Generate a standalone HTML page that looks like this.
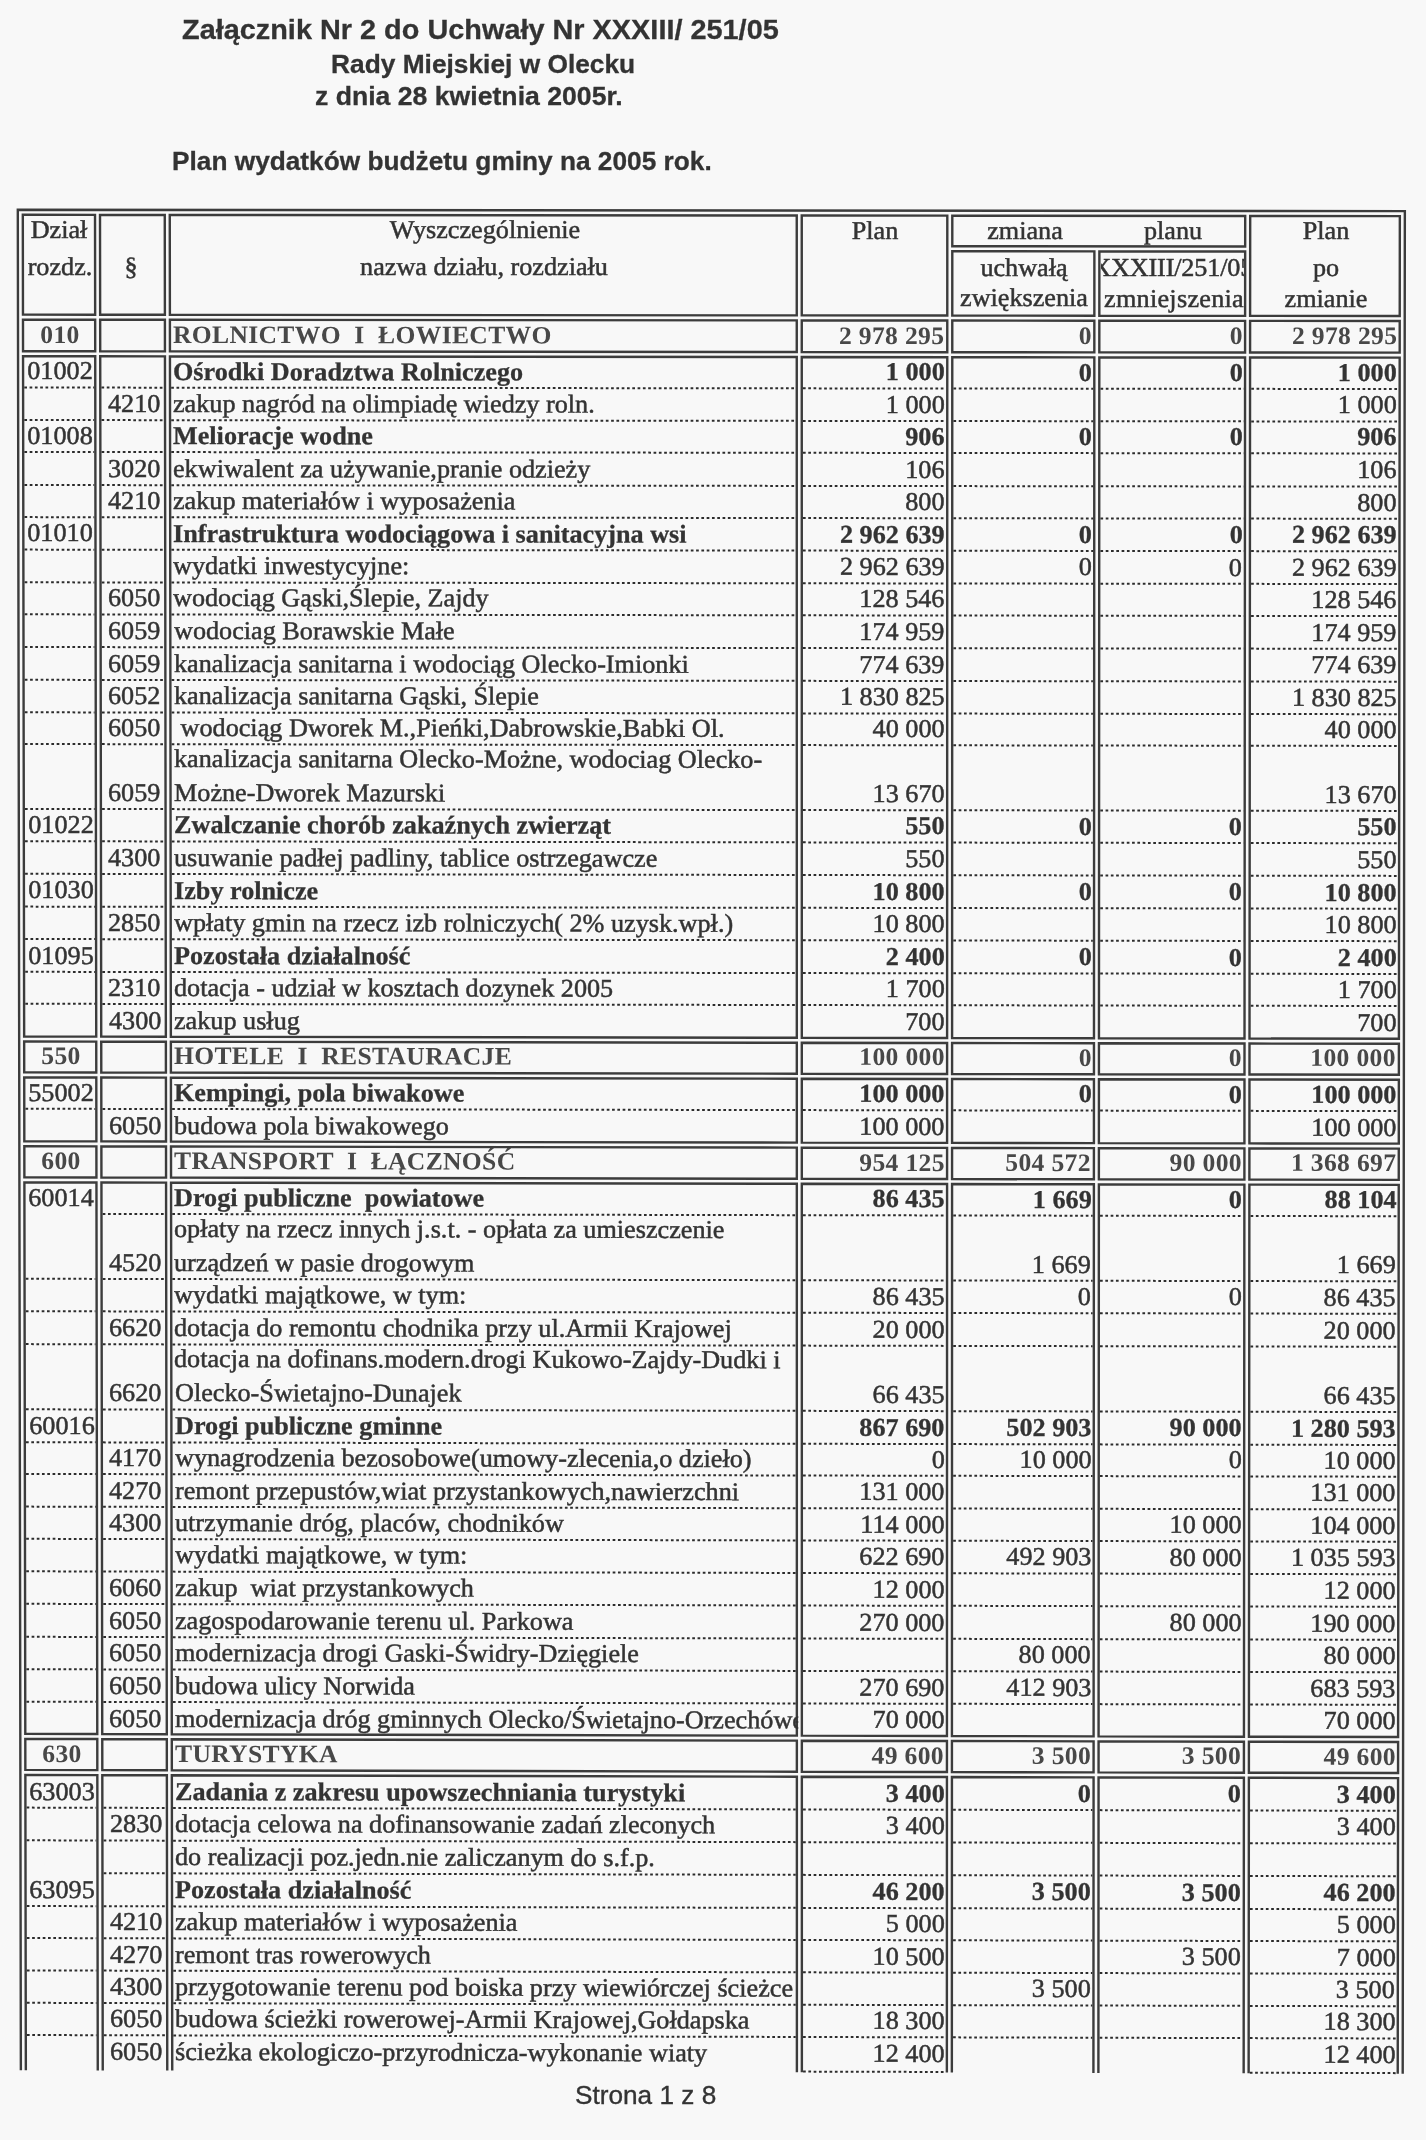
<!DOCTYPE html>
<html lang="pl"><head><meta charset="utf-8"><title>Załącznik Nr 2</title>
<style>
html,body{margin:0;padding:0;background:#f8f8f8;}
body{width:1426px;height:2140px;position:relative;overflow:hidden;font-family:"Liberation Serif",serif;color:#333333;}
#pg{position:absolute;left:0;top:0;width:1426px;height:2140px;filter:blur(0.35px);}
#tb{position:absolute;left:0;top:0;width:1426px;height:2140px;}
#tb svg{position:absolute;left:0;top:0;}
#tb svg line,#tb svg polygon,#tb svg polyline{stroke:#3c3c3c;stroke-width:2.4;fill:none;shape-rendering:geometricPrecision;}
#tb svg line.d{stroke:#2c2c2c;stroke-dasharray:2.7 2.6;stroke-width:2.0;}
#tb div{position:absolute;white-space:pre;line-height:30px;height:30px;-webkit-text-stroke:0.5px #333333;}
#tb div.b{font-weight:bold;-webkit-text-stroke:0.3px #333333;}
#tb div.sec{font-weight:bold;color:#484848;-webkit-text-stroke:0;letter-spacing:0.33px;}
#tb div.clip{overflow:hidden;}
.h{position:absolute;white-space:pre;font-family:"Liberation Sans",sans-serif;font-weight:bold;color:#333;line-height:30px;-webkit-text-stroke:0.3px #333;}
.f{position:absolute;white-space:pre;font-family:"Liberation Sans",sans-serif;color:#333;line-height:30px;-webkit-text-stroke:0.35px #333;}
</style></head><body>
<div id="pg">
<div class="h" style="left:181.60px;top:13.79px;font-size:28.31px;transform:scaleX(1.02);transform-origin:0 50%">Załącznik Nr 2 do Uchwały Nr XXXIII/ 251/05</div>
<div class="h" style="left:331.40px;top:48.76px;font-size:25.81px;transform:scaleX(1.02);transform-origin:0 50%">Rady Miejskiej w Olecku</div>
<div class="h" style="left:314.80px;top:80.86px;font-size:26.10px;transform:scaleX(1.02);transform-origin:0 50%">z dnia 28 kwietnia 2005r.</div>
<div class="h" style="left:171.80px;top:145.88px;font-size:25.74px;transform:scaleX(1.02);transform-origin:0 50%">Plan wydatków budżetu gminy na 2005 rok.</div>
<div id="tb">
<svg width="1426" height="2140" viewBox="0 0 1426 2140">
<polyline points="20.86,2070.20 17.80,209.80 1404.85,211.10 1402.71,2073.74"/>
<polygon points="22.97,314.60 22.81,214.80 95.01,214.87 95.16,314.68"/>
<polygon points="100.15,314.68 100.01,214.88 164.76,214.94 164.89,314.75"/>
<polygon points="169.89,314.76 169.76,214.94 796.75,215.53 796.76,315.40"/>
<polygon points="801.76,315.41 801.75,215.54 947.30,215.67 947.28,315.56"/>
<polygon points="1250.11,315.87 1250.20,215.96 1399.84,216.10 1399.73,316.02"/>
<polygon points="23.03,351.20 22.98,319.60 95.16,319.68 95.21,351.28"/>
<polygon points="100.21,351.29 100.16,319.68 164.90,319.75 164.94,351.36"/>
<polygon points="169.94,351.36 169.90,319.76 796.76,320.40 796.76,352.03"/>
<polygon points="801.76,352.03 801.76,320.41 947.27,320.56 947.27,352.19"/>
<polygon points="952.27,352.19 952.27,320.56 1094.34,320.71 1094.33,352.34"/>
<polygon points="1099.32,352.35 1099.34,320.72 1245.11,320.87 1245.08,352.50"/>
<polygon points="1250.08,352.51 1250.11,320.87 1399.72,321.03 1399.69,352.66"/>
<polygon points="24.15,1036.51 23.04,356.20 95.22,356.28 96.23,1036.63"/>
<polygon points="101.22,1036.64 100.22,356.29 164.95,356.36 165.86,1036.74"/>
<polygon points="170.86,1036.75 169.95,356.36 796.76,357.03 796.81,1037.79"/>
<polygon points="801.80,1037.80 801.76,357.03 947.27,357.19 947.11,1038.04"/>
<polygon points="952.10,1038.05 952.27,357.19 1094.32,357.35 1093.97,1038.28"/>
<polygon points="1098.96,1038.29 1099.32,357.35 1245.08,357.51 1244.51,1038.53"/>
<polygon points="1249.51,1038.54 1250.08,357.51 1399.68,357.67 1398.91,1038.79"/>
<polygon points="24.21,1072.41 24.16,1041.51 96.24,1041.63 96.28,1072.53"/>
<polygon points="101.28,1072.54 101.23,1041.64 165.87,1041.74 165.91,1072.65"/>
<polygon points="170.90,1072.66 170.86,1041.75 796.81,1042.79 796.81,1073.71"/>
<polygon points="801.81,1073.72 801.80,1042.80 947.11,1043.04 947.10,1073.97"/>
<polygon points="952.09,1073.98 952.10,1043.05 1093.96,1043.29 1093.95,1074.22"/>
<polygon points="1098.94,1074.22 1098.95,1043.30 1244.51,1043.54 1244.49,1074.47"/>
<polygon points="1249.48,1074.48 1249.50,1043.55 1398.90,1043.79 1398.87,1074.73"/>
<polygon points="24.32,1141.26 24.22,1077.41 96.29,1077.53 96.39,1141.38"/>
<polygon points="101.38,1141.39 101.28,1077.54 165.92,1077.65 166.01,1141.51"/>
<polygon points="171.00,1141.51 170.91,1077.66 796.81,1078.72 796.82,1142.61"/>
<polygon points="801.81,1142.62 801.81,1078.73 947.10,1078.97 947.09,1142.87"/>
<polygon points="952.08,1142.88 952.09,1078.98 1093.94,1079.22 1093.91,1143.13"/>
<polygon points="1098.90,1143.14 1098.94,1079.23 1244.48,1079.48 1244.43,1143.39"/>
<polygon points="1249.42,1143.40 1249.47,1079.48 1398.86,1079.74 1398.79,1143.66"/>
<polygon points="24.38,1177.41 24.33,1146.26 96.39,1146.38 96.44,1177.54"/>
<polygon points="101.43,1177.55 101.38,1146.39 166.01,1146.51 166.05,1177.66"/>
<polygon points="171.04,1177.67 171.00,1146.52 796.82,1147.61 796.82,1178.78"/>
<polygon points="801.81,1178.79 801.81,1147.62 947.09,1147.88 947.08,1179.05"/>
<polygon points="952.07,1179.06 952.08,1147.89 1093.91,1148.13 1093.89,1179.31"/>
<polygon points="1098.88,1179.32 1098.90,1148.14 1244.42,1148.40 1244.40,1179.58"/>
<polygon points="1249.39,1179.59 1249.41,1148.41 1398.78,1148.67 1398.75,1179.86"/>
<polygon points="25.29,1733.91 24.39,1182.41 96.45,1182.54 97.27,1734.07"/>
<polygon points="102.25,1734.09 101.44,1182.55 166.06,1182.66 166.80,1734.23"/>
<polygon points="171.79,1734.24 171.05,1182.67 796.82,1183.79 796.86,1735.66"/>
<polygon points="801.85,1735.67 801.81,1183.80 947.08,1184.06 946.95,1736.00"/>
<polygon points="951.94,1736.01 952.07,1184.07 1093.89,1184.32 1093.60,1736.33"/>
<polygon points="1098.58,1736.35 1098.88,1184.33 1244.39,1184.59 1243.94,1736.68"/>
<polygon points="1248.92,1736.69 1249.38,1184.60 1398.74,1184.86 1398.11,1737.03"/>
<polygon points="25.35,1769.91 25.30,1738.91 97.28,1739.07 97.32,1770.08"/>
<polygon points="102.31,1770.09 102.26,1739.09 166.81,1739.23 166.85,1770.24"/>
<polygon points="171.84,1770.25 171.80,1739.24 796.86,1740.66 796.87,1771.69"/>
<polygon points="801.85,1771.70 801.85,1740.68 946.95,1741.01 946.94,1772.03"/>
<polygon points="951.93,1772.04 951.94,1741.02 1093.60,1741.34 1093.58,1772.37"/>
<polygon points="1098.57,1772.38 1098.58,1741.35 1243.93,1741.68 1243.91,1772.71"/>
<polygon points="1248.89,1772.73 1248.92,1741.69 1398.11,1742.03 1398.07,1773.07"/>
<polyline points="25.84,2070.21 25.36,1774.91 97.33,1775.08 97.77,2070.40"/>
<polyline points="102.75,2070.41 102.31,1775.09 166.86,1775.24 167.26,2070.57"/>
<polyline points="172.24,2070.59 171.84,1775.25 796.87,1776.69 796.89,2072.19"/>
<polyline points="801.87,2072.20 801.85,1776.70 946.94,1777.04 946.87,2072.57"/>
<polyline points="951.86,2072.59 951.93,1777.05 1093.58,1777.37 1093.42,2072.95"/>
<polyline points="1098.40,2072.96 1098.56,1777.38 1243.90,1777.72 1243.66,2073.33"/>
<polyline points="1248.64,2073.35 1248.89,1777.73 1398.06,1778.08 1397.73,2073.73"/>
<polygon points="952.29,246.25 952.30,215.68 1245.20,215.96 1245.17,246.54"/>
<polygon points="952.28,315.56 952.29,251.26 1094.38,251.40 1094.35,315.71"/>
<polygon points="1099.34,315.71 1099.38,251.40 1245.17,251.54 1245.11,315.86"/>
<line x1="24.29" y1="387.51" x2="94.06" y2="387.58" class="d"/>
<line x1="101.46" y1="387.59" x2="163.79" y2="387.66" class="d"/>
<line x1="171.19" y1="387.67" x2="795.56" y2="388.35" class="d"/>
<line x1="802.96" y1="388.36" x2="946.06" y2="388.51" class="d"/>
<line x1="953.46" y1="388.52" x2="1093.11" y2="388.67" class="d"/>
<line x1="1100.50" y1="388.68" x2="1243.85" y2="388.84" class="d"/>
<line x1="1251.25" y1="388.85" x2="1398.45" y2="389.01" class="d"/>
<line x1="24.34" y1="420.01" x2="94.11" y2="420.08" class="d"/>
<line x1="101.51" y1="420.09" x2="163.83" y2="420.16" class="d"/>
<line x1="171.23" y1="420.17" x2="795.57" y2="420.87" class="d"/>
<line x1="802.96" y1="420.88" x2="946.05" y2="421.04" class="d"/>
<line x1="953.45" y1="421.05" x2="1093.09" y2="421.20" class="d"/>
<line x1="1100.49" y1="421.21" x2="1243.83" y2="421.37" class="d"/>
<line x1="1251.22" y1="421.38" x2="1398.41" y2="421.55" class="d"/>
<line x1="24.39" y1="451.91" x2="94.16" y2="451.99" class="d"/>
<line x1="101.56" y1="452.00" x2="163.88" y2="452.07" class="d"/>
<line x1="171.27" y1="452.08" x2="795.57" y2="452.79" class="d"/>
<line x1="802.97" y1="452.80" x2="946.05" y2="452.97" class="d"/>
<line x1="953.44" y1="452.97" x2="1093.07" y2="453.13" class="d"/>
<line x1="1100.47" y1="453.14" x2="1243.80" y2="453.31" class="d"/>
<line x1="1251.20" y1="453.32" x2="1398.37" y2="453.48" class="d"/>
<line x1="24.45" y1="485.01" x2="94.21" y2="485.09" class="d"/>
<line x1="101.61" y1="485.10" x2="163.92" y2="485.17" class="d"/>
<line x1="171.32" y1="485.18" x2="795.57" y2="485.91" class="d"/>
<line x1="802.97" y1="485.92" x2="946.04" y2="486.09" class="d"/>
<line x1="953.43" y1="486.10" x2="1093.06" y2="486.26" class="d"/>
<line x1="1100.45" y1="486.27" x2="1243.77" y2="486.44" class="d"/>
<line x1="1251.17" y1="486.45" x2="1398.34" y2="486.62" class="d"/>
<line x1="24.50" y1="517.11" x2="94.26" y2="517.19" class="d"/>
<line x1="101.65" y1="517.20" x2="163.96" y2="517.28" class="d"/>
<line x1="171.36" y1="517.28" x2="795.57" y2="518.04" class="d"/>
<line x1="802.97" y1="518.05" x2="946.03" y2="518.22" class="d"/>
<line x1="953.43" y1="518.23" x2="1093.04" y2="518.39" class="d"/>
<line x1="1100.43" y1="518.40" x2="1243.75" y2="518.58" class="d"/>
<line x1="1251.14" y1="518.59" x2="1398.30" y2="518.76" class="d"/>
<line x1="24.55" y1="549.61" x2="94.31" y2="549.69" class="d"/>
<line x1="101.70" y1="549.70" x2="164.01" y2="549.78" class="d"/>
<line x1="171.40" y1="549.79" x2="795.58" y2="550.56" class="d"/>
<line x1="802.97" y1="550.57" x2="946.02" y2="550.74" class="d"/>
<line x1="953.42" y1="550.75" x2="1093.02" y2="550.93" class="d"/>
<line x1="1100.42" y1="550.93" x2="1243.72" y2="551.11" class="d"/>
<line x1="1251.11" y1="551.12" x2="1398.26" y2="551.30" class="d"/>
<line x1="24.61" y1="582.31" x2="94.36" y2="582.40" class="d"/>
<line x1="101.75" y1="582.40" x2="164.05" y2="582.48" class="d"/>
<line x1="171.45" y1="582.49" x2="795.58" y2="583.28" class="d"/>
<line x1="802.97" y1="583.29" x2="946.02" y2="583.47" class="d"/>
<line x1="953.41" y1="583.48" x2="1093.01" y2="583.66" class="d"/>
<line x1="1100.40" y1="583.67" x2="1243.69" y2="583.85" class="d"/>
<line x1="1251.09" y1="583.86" x2="1398.23" y2="584.04" class="d"/>
<line x1="24.66" y1="614.31" x2="94.40" y2="614.40" class="d"/>
<line x1="101.80" y1="614.41" x2="164.10" y2="614.49" class="d"/>
<line x1="171.49" y1="614.50" x2="795.58" y2="615.30" class="d"/>
<line x1="802.98" y1="615.31" x2="946.01" y2="615.50" class="d"/>
<line x1="953.40" y1="615.51" x2="1092.99" y2="615.69" class="d"/>
<line x1="1100.38" y1="615.70" x2="1243.67" y2="615.88" class="d"/>
<line x1="1251.06" y1="615.89" x2="1398.19" y2="616.08" class="d"/>
<line x1="24.71" y1="647.01" x2="94.45" y2="647.10" class="d"/>
<line x1="101.85" y1="647.11" x2="164.14" y2="647.19" class="d"/>
<line x1="171.53" y1="647.20" x2="795.58" y2="648.02" class="d"/>
<line x1="802.98" y1="648.03" x2="946.00" y2="648.22" class="d"/>
<line x1="953.39" y1="648.23" x2="1092.97" y2="648.42" class="d"/>
<line x1="1100.37" y1="648.43" x2="1243.64" y2="648.61" class="d"/>
<line x1="1251.03" y1="648.62" x2="1398.15" y2="648.82" class="d"/>
<line x1="24.77" y1="679.81" x2="94.50" y2="679.90" class="d"/>
<line x1="101.89" y1="679.91" x2="164.18" y2="680.00" class="d"/>
<line x1="171.58" y1="680.01" x2="795.59" y2="680.85" class="d"/>
<line x1="802.98" y1="680.86" x2="945.99" y2="681.05" class="d"/>
<line x1="953.39" y1="681.06" x2="1092.95" y2="681.25" class="d"/>
<line x1="1100.35" y1="681.26" x2="1243.61" y2="681.45" class="d"/>
<line x1="1251.00" y1="681.46" x2="1398.12" y2="681.66" class="d"/>
<line x1="24.82" y1="712.31" x2="94.55" y2="712.40" class="d"/>
<line x1="101.94" y1="712.41" x2="164.23" y2="712.50" class="d"/>
<line x1="171.62" y1="712.51" x2="795.59" y2="713.37" class="d"/>
<line x1="802.98" y1="713.38" x2="945.99" y2="713.58" class="d"/>
<line x1="953.38" y1="713.59" x2="1092.94" y2="713.78" class="d"/>
<line x1="1100.33" y1="713.79" x2="1243.58" y2="713.98" class="d"/>
<line x1="1250.98" y1="713.99" x2="1398.08" y2="714.20" class="d"/>
<line x1="24.87" y1="744.01" x2="94.60" y2="744.11" class="d"/>
<line x1="101.99" y1="744.12" x2="164.27" y2="744.20" class="d"/>
<line x1="171.66" y1="744.21" x2="795.59" y2="745.09" class="d"/>
<line x1="802.98" y1="745.10" x2="945.98" y2="745.30" class="d"/>
<line x1="953.37" y1="745.31" x2="1092.92" y2="745.51" class="d"/>
<line x1="1100.31" y1="745.52" x2="1243.56" y2="745.72" class="d"/>
<line x1="1250.95" y1="745.73" x2="1398.04" y2="745.94" class="d"/>
<line x1="24.98" y1="808.91" x2="94.69" y2="809.01" class="d"/>
<line x1="102.08" y1="809.02" x2="164.36" y2="809.11" class="d"/>
<line x1="171.75" y1="809.12" x2="795.60" y2="810.03" class="d"/>
<line x1="802.99" y1="810.04" x2="945.96" y2="810.25" class="d"/>
<line x1="953.36" y1="810.26" x2="1092.89" y2="810.47" class="d"/>
<line x1="1100.28" y1="810.48" x2="1243.50" y2="810.69" class="d"/>
<line x1="1250.90" y1="810.70" x2="1397.97" y2="810.91" class="d"/>
<line x1="25.03" y1="841.21" x2="94.74" y2="841.31" class="d"/>
<line x1="102.13" y1="841.32" x2="164.40" y2="841.42" class="d"/>
<line x1="171.79" y1="841.43" x2="795.60" y2="842.36" class="d"/>
<line x1="802.99" y1="842.37" x2="945.96" y2="842.58" class="d"/>
<line x1="953.35" y1="842.59" x2="1092.87" y2="842.80" class="d"/>
<line x1="1100.26" y1="842.81" x2="1243.48" y2="843.02" class="d"/>
<line x1="1250.87" y1="843.03" x2="1397.93" y2="843.25" class="d"/>
<line x1="25.08" y1="873.81" x2="94.79" y2="873.91" class="d"/>
<line x1="102.18" y1="873.93" x2="164.45" y2="874.02" class="d"/>
<line x1="171.84" y1="874.03" x2="795.60" y2="874.98" class="d"/>
<line x1="802.99" y1="874.99" x2="945.95" y2="875.21" class="d"/>
<line x1="953.34" y1="875.22" x2="1092.85" y2="875.43" class="d"/>
<line x1="1100.24" y1="875.44" x2="1243.45" y2="875.66" class="d"/>
<line x1="1250.84" y1="875.67" x2="1397.89" y2="875.89" class="d"/>
<line x1="25.14" y1="906.61" x2="94.84" y2="906.72" class="d"/>
<line x1="102.23" y1="906.73" x2="164.49" y2="906.82" class="d"/>
<line x1="171.88" y1="906.84" x2="795.60" y2="907.80" class="d"/>
<line x1="802.99" y1="907.81" x2="945.94" y2="908.03" class="d"/>
<line x1="953.33" y1="908.04" x2="1092.84" y2="908.26" class="d"/>
<line x1="1100.23" y1="908.27" x2="1243.42" y2="908.49" class="d"/>
<line x1="1250.81" y1="908.50" x2="1397.86" y2="908.73" class="d"/>
<line x1="25.19" y1="939.01" x2="94.89" y2="939.12" class="d"/>
<line x1="102.28" y1="939.13" x2="164.53" y2="939.23" class="d"/>
<line x1="171.92" y1="939.24" x2="795.61" y2="940.22" class="d"/>
<line x1="803.00" y1="940.23" x2="945.94" y2="940.46" class="d"/>
<line x1="953.32" y1="940.47" x2="1092.82" y2="940.69" class="d"/>
<line x1="1100.21" y1="940.70" x2="1243.40" y2="940.93" class="d"/>
<line x1="1250.79" y1="940.94" x2="1397.82" y2="941.17" class="d"/>
<line x1="25.24" y1="971.81" x2="94.94" y2="971.92" class="d"/>
<line x1="102.32" y1="971.93" x2="164.58" y2="972.03" class="d"/>
<line x1="171.97" y1="972.04" x2="795.61" y2="973.04" class="d"/>
<line x1="803.00" y1="973.06" x2="945.93" y2="973.28" class="d"/>
<line x1="953.32" y1="973.30" x2="1092.80" y2="973.52" class="d"/>
<line x1="1100.19" y1="973.53" x2="1243.37" y2="973.76" class="d"/>
<line x1="1250.76" y1="973.77" x2="1397.78" y2="974.01" class="d"/>
<line x1="25.30" y1="1003.76" x2="94.98" y2="1003.87" class="d"/>
<line x1="102.37" y1="1003.89" x2="164.62" y2="1003.99" class="d"/>
<line x1="172.01" y1="1004.00" x2="795.61" y2="1005.02" class="d"/>
<line x1="803.00" y1="1005.03" x2="945.92" y2="1005.26" class="d"/>
<line x1="953.31" y1="1005.27" x2="1092.79" y2="1005.50" class="d"/>
<line x1="1100.17" y1="1005.51" x2="1243.34" y2="1005.75" class="d"/>
<line x1="1250.73" y1="1005.76" x2="1397.75" y2="1006.00" class="d"/>
<line x1="25.47" y1="1108.76" x2="95.14" y2="1108.88" class="d"/>
<line x1="102.53" y1="1108.89" x2="164.76" y2="1109.00" class="d"/>
<line x1="172.15" y1="1109.01" x2="795.62" y2="1110.09" class="d"/>
<line x1="803.01" y1="1110.10" x2="945.90" y2="1110.34" class="d"/>
<line x1="953.28" y1="1110.36" x2="1092.73" y2="1110.60" class="d"/>
<line x1="1100.12" y1="1110.61" x2="1243.26" y2="1110.86" class="d"/>
<line x1="1250.64" y1="1110.87" x2="1397.63" y2="1111.12" class="d"/>
<line x1="102.68" y1="1213.90" x2="164.91" y2="1214.01" class="d"/>
<line x1="172.29" y1="1214.03" x2="795.63" y2="1215.16" class="d"/>
<line x1="803.01" y1="1215.17" x2="945.87" y2="1215.43" class="d"/>
<line x1="953.26" y1="1215.44" x2="1092.68" y2="1215.70" class="d"/>
<line x1="1100.06" y1="1215.71" x2="1243.17" y2="1215.97" class="d"/>
<line x1="1250.56" y1="1215.98" x2="1397.51" y2="1216.25" class="d"/>
<line x1="25.74" y1="1278.76" x2="95.39" y2="1278.89" class="d"/>
<line x1="102.78" y1="1278.90" x2="164.99" y2="1279.02" class="d"/>
<line x1="172.38" y1="1279.04" x2="795.63" y2="1280.20" class="d"/>
<line x1="803.02" y1="1280.21" x2="945.86" y2="1280.48" class="d"/>
<line x1="953.24" y1="1280.50" x2="1092.64" y2="1280.76" class="d"/>
<line x1="1100.03" y1="1280.77" x2="1243.12" y2="1281.04" class="d"/>
<line x1="1250.50" y1="1281.05" x2="1397.43" y2="1281.33" class="d"/>
<line x1="25.80" y1="1311.21" x2="95.44" y2="1311.34" class="d"/>
<line x1="102.83" y1="1311.36" x2="165.04" y2="1311.48" class="d"/>
<line x1="172.42" y1="1311.49" x2="795.63" y2="1312.67" class="d"/>
<line x1="803.02" y1="1312.69" x2="945.85" y2="1312.96" class="d"/>
<line x1="953.23" y1="1312.97" x2="1092.62" y2="1313.24" class="d"/>
<line x1="1100.01" y1="1313.25" x2="1243.09" y2="1313.52" class="d"/>
<line x1="1250.47" y1="1313.54" x2="1397.40" y2="1313.82" class="d"/>
<line x1="25.85" y1="1344.11" x2="95.49" y2="1344.25" class="d"/>
<line x1="102.87" y1="1344.26" x2="165.08" y2="1344.38" class="d"/>
<line x1="172.47" y1="1344.39" x2="795.64" y2="1345.60" class="d"/>
<line x1="803.02" y1="1345.61" x2="945.84" y2="1345.88" class="d"/>
<line x1="953.23" y1="1345.90" x2="1092.61" y2="1346.17" class="d"/>
<line x1="1099.99" y1="1346.18" x2="1243.06" y2="1346.46" class="d"/>
<line x1="1250.45" y1="1346.47" x2="1397.36" y2="1346.76" class="d"/>
<line x1="25.96" y1="1409.31" x2="95.59" y2="1409.45" class="d"/>
<line x1="102.97" y1="1409.46" x2="165.17" y2="1409.59" class="d"/>
<line x1="172.55" y1="1409.60" x2="795.64" y2="1410.84" class="d"/>
<line x1="803.02" y1="1410.85" x2="945.83" y2="1411.14" class="d"/>
<line x1="953.21" y1="1411.15" x2="1092.57" y2="1411.43" class="d"/>
<line x1="1099.96" y1="1411.44" x2="1243.01" y2="1411.73" class="d"/>
<line x1="1250.39" y1="1411.74" x2="1397.28" y2="1412.03" class="d"/>
<line x1="26.01" y1="1442.21" x2="95.64" y2="1442.35" class="d"/>
<line x1="103.02" y1="1442.37" x2="165.21" y2="1442.49" class="d"/>
<line x1="172.60" y1="1442.51" x2="795.65" y2="1443.76" class="d"/>
<line x1="803.03" y1="1443.78" x2="945.82" y2="1444.06" class="d"/>
<line x1="953.20" y1="1444.08" x2="1092.56" y2="1444.36" class="d"/>
<line x1="1099.94" y1="1444.37" x2="1242.98" y2="1444.66" class="d"/>
<line x1="1250.36" y1="1444.68" x2="1397.25" y2="1444.97" class="d"/>
<line x1="26.06" y1="1473.91" x2="95.69" y2="1474.05" class="d"/>
<line x1="103.07" y1="1474.07" x2="165.26" y2="1474.20" class="d"/>
<line x1="172.64" y1="1474.21" x2="795.65" y2="1475.48" class="d"/>
<line x1="803.03" y1="1475.50" x2="945.81" y2="1475.79" class="d"/>
<line x1="953.20" y1="1475.80" x2="1092.54" y2="1476.09" class="d"/>
<line x1="1099.92" y1="1476.10" x2="1242.96" y2="1476.40" class="d"/>
<line x1="1250.34" y1="1476.41" x2="1397.21" y2="1476.71" class="d"/>
<line x1="26.12" y1="1506.61" x2="95.73" y2="1506.76" class="d"/>
<line x1="103.11" y1="1506.77" x2="165.30" y2="1506.90" class="d"/>
<line x1="172.68" y1="1506.92" x2="795.65" y2="1508.21" class="d"/>
<line x1="803.03" y1="1508.22" x2="945.81" y2="1508.52" class="d"/>
<line x1="953.19" y1="1508.53" x2="1092.52" y2="1508.82" class="d"/>
<line x1="1099.90" y1="1508.83" x2="1242.93" y2="1509.13" class="d"/>
<line x1="1250.31" y1="1509.15" x2="1397.17" y2="1509.45" class="d"/>
<line x1="26.17" y1="1538.81" x2="95.78" y2="1538.96" class="d"/>
<line x1="103.16" y1="1538.97" x2="165.35" y2="1539.10" class="d"/>
<line x1="172.73" y1="1539.12" x2="795.65" y2="1540.43" class="d"/>
<line x1="803.03" y1="1540.44" x2="945.80" y2="1540.74" class="d"/>
<line x1="953.18" y1="1540.76" x2="1092.51" y2="1541.05" class="d"/>
<line x1="1099.89" y1="1541.07" x2="1242.90" y2="1541.37" class="d"/>
<line x1="1250.28" y1="1541.38" x2="1397.14" y2="1541.69" class="d"/>
<line x1="26.22" y1="1571.31" x2="95.83" y2="1571.46" class="d"/>
<line x1="103.21" y1="1571.48" x2="165.39" y2="1571.61" class="d"/>
<line x1="172.77" y1="1571.62" x2="795.66" y2="1572.95" class="d"/>
<line x1="803.03" y1="1572.96" x2="945.79" y2="1573.27" class="d"/>
<line x1="953.17" y1="1573.28" x2="1092.49" y2="1573.58" class="d"/>
<line x1="1099.87" y1="1573.60" x2="1242.87" y2="1573.90" class="d"/>
<line x1="1250.25" y1="1573.92" x2="1397.10" y2="1574.23" class="d"/>
<line x1="26.27" y1="1603.81" x2="95.88" y2="1603.96" class="d"/>
<line x1="103.26" y1="1603.98" x2="165.43" y2="1604.11" class="d"/>
<line x1="172.81" y1="1604.13" x2="795.66" y2="1605.47" class="d"/>
<line x1="803.04" y1="1605.49" x2="945.78" y2="1605.79" class="d"/>
<line x1="953.16" y1="1605.81" x2="1092.47" y2="1606.11" class="d"/>
<line x1="1099.85" y1="1606.13" x2="1242.85" y2="1606.43" class="d"/>
<line x1="1250.23" y1="1606.45" x2="1397.06" y2="1606.77" class="d"/>
<line x1="26.33" y1="1636.81" x2="95.93" y2="1636.96" class="d"/>
<line x1="103.31" y1="1636.98" x2="165.48" y2="1637.12" class="d"/>
<line x1="172.86" y1="1637.13" x2="795.66" y2="1638.49" class="d"/>
<line x1="803.04" y1="1638.51" x2="945.78" y2="1638.82" class="d"/>
<line x1="953.16" y1="1638.84" x2="1092.45" y2="1639.14" class="d"/>
<line x1="1099.83" y1="1639.16" x2="1242.82" y2="1639.47" class="d"/>
<line x1="1250.20" y1="1639.49" x2="1397.03" y2="1639.81" class="d"/>
<line x1="26.38" y1="1669.21" x2="95.98" y2="1669.37" class="d"/>
<line x1="103.35" y1="1669.38" x2="165.52" y2="1669.52" class="d"/>
<line x1="172.90" y1="1669.54" x2="795.66" y2="1670.91" class="d"/>
<line x1="803.04" y1="1670.93" x2="945.77" y2="1671.25" class="d"/>
<line x1="953.15" y1="1671.26" x2="1092.44" y2="1671.57" class="d"/>
<line x1="1099.82" y1="1671.59" x2="1242.79" y2="1671.90" class="d"/>
<line x1="1250.17" y1="1671.92" x2="1396.99" y2="1672.25" class="d"/>
<line x1="26.43" y1="1701.71" x2="96.02" y2="1701.87" class="d"/>
<line x1="103.40" y1="1701.89" x2="165.57" y2="1702.02" class="d"/>
<line x1="172.94" y1="1702.04" x2="795.67" y2="1703.44" class="d"/>
<line x1="803.04" y1="1703.45" x2="945.76" y2="1703.77" class="d"/>
<line x1="953.14" y1="1703.79" x2="1092.42" y2="1704.10" class="d"/>
<line x1="1099.80" y1="1704.12" x2="1242.77" y2="1704.44" class="d"/>
<line x1="1250.14" y1="1704.46" x2="1396.95" y2="1704.78" class="d"/>
<line x1="26.61" y1="1807.61" x2="96.18" y2="1807.78" class="d"/>
<line x1="103.56" y1="1807.79" x2="165.71" y2="1807.94" class="d"/>
<line x1="173.08" y1="1807.96" x2="795.67" y2="1809.41" class="d"/>
<line x1="803.05" y1="1809.43" x2="945.74" y2="1809.76" class="d"/>
<line x1="953.11" y1="1809.78" x2="1092.36" y2="1810.10" class="d"/>
<line x1="1099.74" y1="1810.12" x2="1242.68" y2="1810.45" class="d"/>
<line x1="1250.06" y1="1810.47" x2="1396.83" y2="1810.81" class="d"/>
<line x1="26.66" y1="1840.31" x2="96.23" y2="1840.48" class="d"/>
<line x1="103.61" y1="1840.50" x2="165.75" y2="1840.64" class="d"/>
<line x1="173.13" y1="1840.66" x2="795.68" y2="1842.13" class="d"/>
<line x1="803.05" y1="1842.15" x2="945.73" y2="1842.49" class="d"/>
<line x1="953.11" y1="1842.50" x2="1092.35" y2="1842.83" class="d"/>
<line x1="1099.72" y1="1842.85" x2="1242.65" y2="1843.19" class="d"/>
<line x1="1250.03" y1="1843.20" x2="1396.79" y2="1843.55" class="d"/>
<line x1="103.66" y1="1873.20" x2="165.80" y2="1873.35" class="d"/>
<line x1="173.17" y1="1873.36" x2="795.68" y2="1874.85" class="d"/>
<line x1="803.05" y1="1874.87" x2="945.72" y2="1875.21" class="d"/>
<line x1="953.10" y1="1875.23" x2="1092.33" y2="1875.56" class="d"/>
<line x1="1099.71" y1="1875.58" x2="1242.63" y2="1875.92" class="d"/>
<line x1="1250.00" y1="1875.94" x2="1396.76" y2="1876.29" class="d"/>
<line x1="26.77" y1="1906.01" x2="96.33" y2="1906.18" class="d"/>
<line x1="103.70" y1="1906.20" x2="165.84" y2="1906.35" class="d"/>
<line x1="173.22" y1="1906.37" x2="795.68" y2="1907.87" class="d"/>
<line x1="803.06" y1="1907.89" x2="945.72" y2="1908.24" class="d"/>
<line x1="953.09" y1="1908.26" x2="1092.31" y2="1908.59" class="d"/>
<line x1="1099.69" y1="1908.61" x2="1242.60" y2="1908.96" class="d"/>
<line x1="1249.97" y1="1908.97" x2="1396.72" y2="1909.33" class="d"/>
<line x1="26.82" y1="1938.01" x2="96.38" y2="1938.18" class="d"/>
<line x1="103.75" y1="1938.20" x2="165.88" y2="1938.35" class="d"/>
<line x1="173.26" y1="1938.37" x2="795.68" y2="1939.90" class="d"/>
<line x1="803.06" y1="1939.91" x2="945.71" y2="1940.26" class="d"/>
<line x1="953.08" y1="1940.28" x2="1092.30" y2="1940.62" class="d"/>
<line x1="1099.67" y1="1940.64" x2="1242.57" y2="1940.99" class="d"/>
<line x1="1249.95" y1="1941.01" x2="1396.68" y2="1941.37" class="d"/>
<line x1="26.87" y1="1970.41" x2="96.43" y2="1970.59" class="d"/>
<line x1="103.80" y1="1970.60" x2="165.93" y2="1970.76" class="d"/>
<line x1="173.30" y1="1970.78" x2="795.69" y2="1972.32" class="d"/>
<line x1="803.06" y1="1972.34" x2="945.70" y2="1972.69" class="d"/>
<line x1="953.08" y1="1972.71" x2="1092.28" y2="1973.05" class="d"/>
<line x1="1099.65" y1="1973.07" x2="1242.54" y2="1973.43" class="d"/>
<line x1="1249.92" y1="1973.44" x2="1396.65" y2="1973.81" class="d"/>
<line x1="26.93" y1="2002.81" x2="96.47" y2="2002.99" class="d"/>
<line x1="103.85" y1="2003.01" x2="165.97" y2="2003.16" class="d"/>
<line x1="173.35" y1="2003.18" x2="795.69" y2="2004.74" class="d"/>
<line x1="803.06" y1="2004.76" x2="945.69" y2="2005.12" class="d"/>
<line x1="953.07" y1="2005.13" x2="1092.26" y2="2005.48" class="d"/>
<line x1="1099.64" y1="2005.50" x2="1242.52" y2="2005.86" class="d"/>
<line x1="1249.89" y1="2005.88" x2="1396.61" y2="2006.25" class="d"/>
<line x1="26.98" y1="2035.01" x2="96.52" y2="2035.19" class="d"/>
<line x1="103.89" y1="2035.21" x2="166.02" y2="2035.37" class="d"/>
<line x1="173.39" y1="2035.39" x2="795.69" y2="2036.96" class="d"/>
<line x1="803.06" y1="2036.98" x2="945.69" y2="2037.34" class="d"/>
<line x1="953.06" y1="2037.36" x2="1092.25" y2="2037.71" class="d"/>
<line x1="1099.62" y1="2037.73" x2="1242.49" y2="2038.09" class="d"/>
<line x1="1249.86" y1="2038.11" x2="1396.57" y2="2038.48" class="d"/>
<line x1="803.07" y1="2071.60" x2="945.68" y2="2071.97" class="d"/>
<line x1="1249.84" y1="2072.75" x2="1396.53" y2="2073.13" class="d"/>
</svg>
<div class="sec" style="top:319.77px;font-size:25.098039215686274px;left:-340.19px;width:800px;text-align:center;transform-origin:50% 23.5px;transform:rotate(0.060deg) scaleX(1.02);">010</div>
<div class="sec" style="top:319.89px;font-size:25.098039215686274px;left:173.13px;transform-origin:0 23.5px;transform:rotate(0.060deg) scaleX(1.02);">ROLNICTWO  I  ŁOWIECTWO</div>
<div class="sec" style="top:320.71px;font-size:25.098039215686274px;right:481.33px;transform-origin:100% 23.5px;transform:rotate(0.060deg) scaleX(1.02);">2 978 295</div>
<div class="sec" style="top:320.86px;font-size:25.098039215686274px;right:334.27px;transform-origin:100% 23.5px;transform:rotate(0.060deg) scaleX(1.02);">0</div>
<div class="sec" style="top:321.02px;font-size:25.098039215686274px;right:183.51px;transform-origin:100% 23.5px;transform:rotate(0.060deg) scaleX(1.02);">0</div>
<div class="sec" style="top:321.18px;font-size:25.098039215686274px;right:28.90px;transform-origin:100% 23.5px;transform:rotate(0.060deg) scaleX(1.02);">2 978 295</div>
<div style="top:356.38px;font-size:25.68627450980392px;left:-340.13px;width:800px;text-align:center;transform-origin:50% 23.7px;transform:rotate(0.062deg) scaleX(1.02);">01002</div>
<div class="b" style="top:356.50px;font-size:25.68627450980392px;left:173.18px;transform-origin:0 23.7px;width:610.59px;overflow:hidden;transform:rotate(0.062deg) scaleX(1.02);">Ośrodki Doradztwa Rolniczego</div>
<div class="b" style="top:357.34px;font-size:25.68627450980392px;right:481.34px;transform-origin:100% 23.7px;transform:rotate(0.062deg) scaleX(1.02);">1 000</div>
<div class="b" style="top:357.50px;font-size:25.68627450980392px;right:334.29px;transform-origin:100% 23.7px;transform:rotate(0.062deg) scaleX(1.02);">0</div>
<div class="b" style="top:357.66px;font-size:25.68627450980392px;right:183.54px;transform-origin:100% 23.7px;transform:rotate(0.062deg) scaleX(1.02);">0</div>
<div class="b" style="top:357.83px;font-size:25.68627450980392px;right:28.94px;transform-origin:100% 23.7px;transform:rotate(0.062deg) scaleX(1.02);">1 000</div>
<div style="top:388.99px;font-size:25.68627450980392px;right:1265.97px;transform-origin:100% 23.7px;transform:rotate(0.064deg) scaleX(1.02);">4210</div>
<div style="top:389.00px;font-size:25.68627450980392px;left:173.22px;transform-origin:0 23.7px;width:610.59px;overflow:hidden;transform:rotate(0.064deg) scaleX(1.02);">zakup nagród na olimpiadę wiedzy roln.</div>
<div style="top:389.86px;font-size:25.68627450980392px;right:481.35px;transform-origin:100% 23.7px;transform:rotate(0.064deg) scaleX(1.02);">1 000</div>
<div style="top:390.37px;font-size:25.68627450980392px;right:28.98px;transform-origin:100% 23.7px;transform:rotate(0.064deg) scaleX(1.02);">1 000</div>
<div style="top:420.78px;font-size:25.68627450980392px;left:-340.03px;width:800px;text-align:center;transform-origin:50% 23.7px;transform:rotate(0.065deg) scaleX(1.02);">01008</div>
<div class="b" style="top:420.91px;font-size:25.68627450980392px;left:173.26px;transform-origin:0 23.7px;width:610.59px;overflow:hidden;transform:rotate(0.065deg) scaleX(1.02);">Melioracje wodne</div>
<div class="b" style="top:421.79px;font-size:25.68627450980392px;right:481.35px;transform-origin:100% 23.7px;transform:rotate(0.065deg) scaleX(1.02);">906</div>
<div class="b" style="top:421.96px;font-size:25.68627450980392px;right:334.32px;transform-origin:100% 23.7px;transform:rotate(0.065deg) scaleX(1.02);">0</div>
<div class="b" style="top:422.13px;font-size:25.68627450980392px;right:183.59px;transform-origin:100% 23.7px;transform:rotate(0.065deg) scaleX(1.02);">0</div>
<div class="b" style="top:422.30px;font-size:25.68627450980392px;right:29.02px;transform-origin:100% 23.7px;transform:rotate(0.065deg) scaleX(1.02);">906</div>
<div style="top:454.00px;font-size:25.68627450980392px;right:1265.89px;transform-origin:100% 23.7px;transform:rotate(0.067deg) scaleX(1.02);">3020</div>
<div style="top:454.01px;font-size:25.68627450980392px;left:173.31px;transform-origin:0 23.7px;width:610.59px;overflow:hidden;transform:rotate(0.067deg) scaleX(1.02);">ekwiwalent za używanie,pranie odzieży</div>
<div style="top:454.91px;font-size:25.68627450980392px;right:481.36px;transform-origin:100% 23.7px;transform:rotate(0.067deg) scaleX(1.02);">106</div>
<div style="top:455.44px;font-size:25.68627450980392px;right:29.05px;transform-origin:100% 23.7px;transform:rotate(0.067deg) scaleX(1.02);">106</div>
<div style="top:486.10px;font-size:25.68627450980392px;right:1265.84px;transform-origin:100% 23.7px;transform:rotate(0.069deg) scaleX(1.02);">4210</div>
<div style="top:486.12px;font-size:25.68627450980392px;left:173.35px;transform-origin:0 23.7px;width:610.59px;overflow:hidden;transform:rotate(0.069deg) scaleX(1.02);">zakup materiałów i wyposażenia</div>
<div style="top:487.04px;font-size:25.68627450980392px;right:481.37px;transform-origin:100% 23.7px;transform:rotate(0.069deg) scaleX(1.02);">800</div>
<div style="top:487.58px;font-size:25.68627450980392px;right:29.09px;transform-origin:100% 23.7px;transform:rotate(0.069deg) scaleX(1.02);">800</div>
<div style="top:518.48px;font-size:25.68627450980392px;left:-339.88px;width:800px;text-align:center;transform-origin:50% 23.7px;transform:rotate(0.070deg) scaleX(1.02);">01010</div>
<div class="b" style="top:518.62px;font-size:25.68627450980392px;left:173.39px;transform-origin:0 23.7px;width:610.59px;overflow:hidden;transform:rotate(0.070deg) scaleX(1.02);">Infrastruktura wodociągowa i sanitacyjna wsi</div>
<div class="b" style="top:519.57px;font-size:25.68627450980392px;right:481.37px;transform-origin:100% 23.7px;transform:rotate(0.070deg) scaleX(1.02);">2 962 639</div>
<div class="b" style="top:519.75px;font-size:25.68627450980392px;right:334.37px;transform-origin:100% 23.7px;transform:rotate(0.070deg) scaleX(1.02);">0</div>
<div class="b" style="top:519.93px;font-size:25.68627450980392px;right:183.67px;transform-origin:100% 23.7px;transform:rotate(0.070deg) scaleX(1.02);">0</div>
<div class="b" style="top:520.12px;font-size:25.68627450980392px;right:29.13px;transform-origin:100% 23.7px;transform:rotate(0.070deg) scaleX(1.02);">2 962 639</div>
<div style="top:551.33px;font-size:25.68627450980392px;left:173.44px;transform-origin:0 23.7px;width:610.59px;overflow:hidden;transform:rotate(0.072deg) scaleX(1.02);">wydatki inwestycyjne:</div>
<div style="top:552.29px;font-size:25.68627450980392px;right:481.38px;transform-origin:100% 23.7px;transform:rotate(0.072deg) scaleX(1.02);">2 962 639</div>
<div style="top:552.48px;font-size:25.68627450980392px;right:334.39px;transform-origin:100% 23.7px;transform:rotate(0.072deg) scaleX(1.02);">0</div>
<div style="top:552.67px;font-size:25.68627450980392px;right:183.70px;transform-origin:100% 23.7px;transform:rotate(0.072deg) scaleX(1.02);">0</div>
<div style="top:552.86px;font-size:25.68627450980392px;right:29.16px;transform-origin:100% 23.7px;transform:rotate(0.072deg) scaleX(1.02);">2 962 639</div>
<div style="top:583.31px;font-size:25.68627450980392px;right:1265.71px;transform-origin:100% 23.7px;transform:rotate(0.073deg) scaleX(1.02);">6050</div>
<div style="top:583.33px;font-size:25.68627450980392px;left:173.48px;transform-origin:0 23.7px;width:610.59px;overflow:hidden;transform:rotate(0.073deg) scaleX(1.02);">wodociąg Gąski,Ślepie, Zajdy</div>
<div style="top:584.32px;font-size:25.68627450980392px;right:481.39px;transform-origin:100% 23.7px;transform:rotate(0.073deg) scaleX(1.02);">128 546</div>
<div style="top:584.90px;font-size:25.68627450980392px;right:29.20px;transform-origin:100% 23.7px;transform:rotate(0.073deg) scaleX(1.02);">128 546</div>
<div style="top:616.02px;font-size:25.68627450980392px;right:1265.67px;transform-origin:100% 23.7px;transform:rotate(0.075deg) scaleX(1.02);">6059</div>
<div style="top:616.03px;font-size:25.68627450980392px;left:173.52px;transform-origin:0 23.7px;width:610.59px;overflow:hidden;transform:rotate(0.075deg) scaleX(1.02);">wodociag Borawskie Małe</div>
<div style="top:617.05px;font-size:25.68627450980392px;right:481.40px;transform-origin:100% 23.7px;transform:rotate(0.075deg) scaleX(1.02);">174 959</div>
<div style="top:617.64px;font-size:25.68627450980392px;right:29.24px;transform-origin:100% 23.7px;transform:rotate(0.075deg) scaleX(1.02);">174 959</div>
<div style="top:648.82px;font-size:25.68627450980392px;right:1265.62px;transform-origin:100% 23.7px;transform:rotate(0.077deg) scaleX(1.02);">6059</div>
<div style="top:648.84px;font-size:25.68627450980392px;left:173.57px;transform-origin:0 23.7px;width:610.59px;overflow:hidden;transform:rotate(0.077deg) scaleX(1.02);">kanalizacja sanitarna i wodociąg Olecko-Imionki</div>
<div style="top:649.87px;font-size:25.68627450980392px;right:481.40px;transform-origin:100% 23.7px;transform:rotate(0.077deg) scaleX(1.02);">774 639</div>
<div style="top:650.48px;font-size:25.68627450980392px;right:29.27px;transform-origin:100% 23.7px;transform:rotate(0.077deg) scaleX(1.02);">774 639</div>
<div style="top:681.32px;font-size:25.68627450980392px;right:1265.58px;transform-origin:100% 23.7px;transform:rotate(0.078deg) scaleX(1.02);">6052</div>
<div style="top:681.34px;font-size:25.68627450980392px;left:173.61px;transform-origin:0 23.7px;width:610.59px;overflow:hidden;transform:rotate(0.078deg) scaleX(1.02);">kanalizacja sanitarna Gąski, Ślepie</div>
<div style="top:682.40px;font-size:25.68627450980392px;right:481.41px;transform-origin:100% 23.7px;transform:rotate(0.078deg) scaleX(1.02);">1 830 825</div>
<div style="top:683.02px;font-size:25.68627450980392px;right:29.31px;transform-origin:100% 23.7px;transform:rotate(0.078deg) scaleX(1.02);">1 830 825</div>
<div style="top:713.03px;font-size:25.68627450980392px;right:1265.53px;transform-origin:100% 23.7px;transform:rotate(0.080deg) scaleX(1.02);">6050</div>
<div style="top:713.05px;font-size:25.68627450980392px;left:173.65px;transform-origin:0 23.7px;width:610.59px;overflow:hidden;transform:rotate(0.080deg) scaleX(1.02);"> wodociąg Dworek M.,Pieńki,Dabrowskie,Babki Ol.</div>
<div style="top:714.12px;font-size:25.68627450980392px;right:481.42px;transform-origin:100% 23.7px;transform:rotate(0.080deg) scaleX(1.02);">40 000</div>
<div style="top:714.76px;font-size:25.68627450980392px;right:29.35px;transform-origin:100% 23.7px;transform:rotate(0.080deg) scaleX(1.02);">40 000</div>
<div style="top:744.15px;font-size:25.68627450980392px;left:173.69px;transform-origin:0 23.7px;width:610.59px;overflow:hidden;transform:rotate(0.081deg) scaleX(1.02);">kanalizacja sanitarna Olecko-Możne, wodociag Olecko-</div>
<div style="top:777.94px;font-size:25.68627450980392px;right:1265.45px;transform-origin:100% 23.7px;transform:rotate(0.083deg) scaleX(1.02);">6059</div>
<div style="top:777.96px;font-size:25.68627450980392px;left:173.74px;transform-origin:0 23.7px;width:610.59px;overflow:hidden;transform:rotate(0.083deg) scaleX(1.02);">Możne-Dworek Mazurski</div>
<div style="top:779.08px;font-size:25.68627450980392px;right:481.43px;transform-origin:100% 23.7px;transform:rotate(0.083deg) scaleX(1.02);">13 670</div>
<div style="top:779.73px;font-size:25.68627450980392px;right:29.42px;transform-origin:100% 23.7px;transform:rotate(0.083deg) scaleX(1.02);">13 670</div>
<div style="top:810.09px;font-size:25.68627450980392px;left:-339.43px;width:800px;text-align:center;transform-origin:50% 23.7px;transform:rotate(0.085deg) scaleX(1.02);">01022</div>
<div class="b" style="top:810.26px;font-size:25.68627450980392px;left:173.78px;transform-origin:0 23.7px;width:610.59px;overflow:hidden;transform:rotate(0.085deg) scaleX(1.02);">Zwalczanie chorób zakaźnych zwierząt</div>
<div class="b" style="top:811.40px;font-size:25.68627450980392px;right:481.44px;transform-origin:100% 23.7px;transform:rotate(0.085deg) scaleX(1.02);">550</div>
<div class="b" style="top:811.62px;font-size:25.68627450980392px;right:334.52px;transform-origin:100% 23.7px;transform:rotate(0.085deg) scaleX(1.02);">0</div>
<div class="b" style="top:811.84px;font-size:25.68627450980392px;right:183.91px;transform-origin:100% 23.7px;transform:rotate(0.085deg) scaleX(1.02);">0</div>
<div class="b" style="top:812.07px;font-size:25.68627450980392px;right:29.46px;transform-origin:100% 23.7px;transform:rotate(0.085deg) scaleX(1.02);">550</div>
<div style="top:842.84px;font-size:25.68627450980392px;right:1265.36px;transform-origin:100% 23.7px;transform:rotate(0.086deg) scaleX(1.02);">4300</div>
<div style="top:842.86px;font-size:25.68627450980392px;left:173.82px;transform-origin:0 23.7px;width:610.59px;overflow:hidden;transform:rotate(0.086deg) scaleX(1.02);">usuwanie padłej padliny, tablice ostrzegawcze</div>
<div style="top:844.03px;font-size:25.68627450980392px;right:481.45px;transform-origin:100% 23.7px;transform:rotate(0.086deg) scaleX(1.02);">550</div>
<div style="top:844.71px;font-size:25.68627450980392px;right:29.50px;transform-origin:100% 23.7px;transform:rotate(0.086deg) scaleX(1.02);">550</div>
<div style="top:875.49px;font-size:25.68627450980392px;left:-339.32px;width:800px;text-align:center;transform-origin:50% 23.7px;transform:rotate(0.088deg) scaleX(1.02);">01030</div>
<div class="b" style="top:875.67px;font-size:25.68627450980392px;left:173.87px;transform-origin:0 23.7px;width:610.59px;overflow:hidden;transform:rotate(0.088deg) scaleX(1.02);">Izby rolnicze</div>
<div class="b" style="top:876.85px;font-size:25.68627450980392px;right:481.45px;transform-origin:100% 23.7px;transform:rotate(0.088deg) scaleX(1.02);">10 800</div>
<div class="b" style="top:877.08px;font-size:25.68627450980392px;right:334.56px;transform-origin:100% 23.7px;transform:rotate(0.088deg) scaleX(1.02);">0</div>
<div class="b" style="top:877.31px;font-size:25.68627450980392px;right:183.97px;transform-origin:100% 23.7px;transform:rotate(0.088deg) scaleX(1.02);">0</div>
<div class="b" style="top:877.55px;font-size:25.68627450980392px;right:29.53px;transform-origin:100% 23.7px;transform:rotate(0.088deg) scaleX(1.02);">10 800</div>
<div style="top:908.05px;font-size:25.68627450980392px;right:1265.27px;transform-origin:100% 23.7px;transform:rotate(0.090deg) scaleX(1.02);">2850</div>
<div style="top:908.07px;font-size:25.68627450980392px;left:173.91px;transform-origin:0 23.7px;width:610.59px;overflow:hidden;transform:rotate(0.090deg) scaleX(1.02);">wpłaty gmin na rzecz izb rolniczych( 2% uzysk.wpł.)</div>
<div style="top:909.28px;font-size:25.68627450980392px;right:481.46px;transform-origin:100% 23.7px;transform:rotate(0.090deg) scaleX(1.02);">10 800</div>
<div style="top:909.99px;font-size:25.68627450980392px;right:29.57px;transform-origin:100% 23.7px;transform:rotate(0.090deg) scaleX(1.02);">10 800</div>
<div style="top:940.70px;font-size:25.68627450980392px;left:-339.22px;width:800px;text-align:center;transform-origin:50% 23.7px;transform:rotate(0.091deg) scaleX(1.02);">01095</div>
<div class="b" style="top:940.88px;font-size:25.68627450980392px;left:173.95px;transform-origin:0 23.7px;width:610.59px;overflow:hidden;transform:rotate(0.091deg) scaleX(1.02);">Pozostała działalność</div>
<div class="b" style="top:942.11px;font-size:25.68627450980392px;right:481.47px;transform-origin:100% 23.7px;transform:rotate(0.091deg) scaleX(1.02);">2 400</div>
<div class="b" style="top:942.34px;font-size:25.68627450980392px;right:334.59px;transform-origin:100% 23.7px;transform:rotate(0.091deg) scaleX(1.02);">0</div>
<div class="b" style="top:942.58px;font-size:25.68627450980392px;right:184.02px;transform-origin:100% 23.7px;transform:rotate(0.091deg) scaleX(1.02);">0</div>
<div class="b" style="top:942.83px;font-size:25.68627450980392px;right:29.61px;transform-origin:100% 23.7px;transform:rotate(0.091deg) scaleX(1.02);">2 400</div>
<div style="top:972.81px;font-size:25.68627450980392px;right:1265.18px;transform-origin:100% 23.7px;transform:rotate(0.093deg) scaleX(1.02);">2310</div>
<div style="top:972.83px;font-size:25.68627450980392px;left:174.00px;transform-origin:0 23.7px;width:610.59px;overflow:hidden;transform:rotate(0.093deg) scaleX(1.02);">dotacja - udział w kosztach dozynek 2005</div>
<div style="top:974.08px;font-size:25.68627450980392px;right:481.48px;transform-origin:100% 23.7px;transform:rotate(0.093deg) scaleX(1.02);">1 700</div>
<div style="top:974.82px;font-size:25.68627450980392px;right:29.64px;transform-origin:100% 23.7px;transform:rotate(0.093deg) scaleX(1.02);">1 700</div>
<div style="top:1006.06px;font-size:25.68627450980392px;right:1265.14px;transform-origin:100% 23.7px;transform:rotate(0.095deg) scaleX(1.02);">4300</div>
<div style="top:1006.09px;font-size:25.68627450980392px;left:174.04px;transform-origin:0 23.7px;width:610.59px;overflow:hidden;transform:rotate(0.095deg) scaleX(1.02);">zakup usług</div>
<div style="top:1007.36px;font-size:25.68627450980392px;right:481.48px;transform-origin:100% 23.7px;transform:rotate(0.095deg) scaleX(1.02);">700</div>
<div style="top:1008.11px;font-size:25.68627450980392px;right:29.68px;transform-origin:100% 23.7px;transform:rotate(0.095deg) scaleX(1.02);">700</div>
<div class="sec" style="top:1041.00px;font-size:25.098039215686274px;left:-339.07px;width:800px;text-align:center;transform-origin:50% 23.5px;transform:rotate(0.096deg) scaleX(1.02);">550</div>
<div class="sec" style="top:1041.19px;font-size:25.098039215686274px;left:174.09px;transform-origin:0 23.5px;transform:rotate(0.096deg) scaleX(1.02);">HOTELE  I  RESTAURACJE</div>
<div class="sec" style="top:1042.49px;font-size:25.098039215686274px;right:481.49px;transform-origin:100% 23.5px;transform:rotate(0.096deg) scaleX(1.02);">100 000</div>
<div class="sec" style="top:1042.73px;font-size:25.098039215686274px;right:334.64px;transform-origin:100% 23.5px;transform:rotate(0.096deg) scaleX(1.02);">0</div>
<div class="sec" style="top:1042.99px;font-size:25.098039215686274px;right:184.10px;transform-origin:100% 23.5px;transform:rotate(0.096deg) scaleX(1.02);">0</div>
<div class="sec" style="top:1043.25px;font-size:25.098039215686274px;right:29.72px;transform-origin:100% 23.5px;transform:rotate(0.096deg) scaleX(1.02);">100 000</div>
<div style="top:1077.65px;font-size:25.68627450980392px;left:-339.01px;width:800px;text-align:center;transform-origin:50% 23.7px;transform:rotate(0.098deg) scaleX(1.02);">55002</div>
<div class="b" style="top:1077.85px;font-size:25.68627450980392px;left:174.14px;transform-origin:0 23.7px;width:610.59px;overflow:hidden;transform:rotate(0.098deg) scaleX(1.02);">Kempingi, pola biwakowe</div>
<div class="b" style="top:1079.17px;font-size:25.68627450980392px;right:481.50px;transform-origin:100% 23.7px;transform:rotate(0.098deg) scaleX(1.02);">100 000</div>
<div class="b" style="top:1079.42px;font-size:25.68627450980392px;right:334.66px;transform-origin:100% 23.7px;transform:rotate(0.098deg) scaleX(1.02);">0</div>
<div class="b" style="top:1079.68px;font-size:25.68627450980392px;right:184.13px;transform-origin:100% 23.7px;transform:rotate(0.098deg) scaleX(1.02);">0</div>
<div class="b" style="top:1079.94px;font-size:25.68627450980392px;right:29.76px;transform-origin:100% 23.7px;transform:rotate(0.098deg) scaleX(1.02);">100 000</div>
<div style="top:1110.83px;font-size:25.68627450980392px;right:1264.99px;transform-origin:100% 23.7px;transform:rotate(0.100deg) scaleX(1.02);">6050</div>
<div style="top:1110.85px;font-size:25.68627450980392px;left:174.18px;transform-origin:0 23.7px;width:610.59px;overflow:hidden;transform:rotate(0.100deg) scaleX(1.02);">budowa pola biwakowego</div>
<div style="top:1112.19px;font-size:25.68627450980392px;right:481.51px;transform-origin:100% 23.7px;transform:rotate(0.100deg) scaleX(1.02);">100 000</div>
<div style="top:1112.98px;font-size:25.68627450980392px;right:29.80px;transform-origin:100% 23.7px;transform:rotate(0.100deg) scaleX(1.02);">100 000</div>
<div class="sec" style="top:1146.00px;font-size:25.098039215686274px;left:-338.90px;width:800px;text-align:center;transform-origin:50% 23.5px;transform:rotate(0.102deg) scaleX(1.02);">600</div>
<div class="sec" style="top:1146.20px;font-size:25.098039215686274px;left:174.23px;transform-origin:0 23.5px;transform:rotate(0.102deg) scaleX(1.02);">TRANSPORT  I  ŁĄCZNOŚĆ</div>
<div class="sec" style="top:1147.57px;font-size:25.098039215686274px;right:481.51px;transform-origin:100% 23.5px;transform:rotate(0.102deg) scaleX(1.02);">954 125</div>
<div class="sec" style="top:1147.83px;font-size:25.098039215686274px;right:334.70px;transform-origin:100% 23.5px;transform:rotate(0.102deg) scaleX(1.02);">504 572</div>
<div class="sec" style="top:1148.10px;font-size:25.098039215686274px;right:184.19px;transform-origin:100% 23.5px;transform:rotate(0.102deg) scaleX(1.02);">90 000</div>
<div class="sec" style="top:1148.37px;font-size:25.098039215686274px;right:29.84px;transform-origin:100% 23.5px;transform:rotate(0.102deg) scaleX(1.02);">1 368 697</div>
<div style="top:1182.66px;font-size:25.68627450980392px;left:-338.85px;width:800px;text-align:center;transform-origin:50% 23.7px;transform:rotate(0.103deg) scaleX(1.02);">60014</div>
<div class="b" style="top:1182.86px;font-size:25.68627450980392px;left:174.28px;transform-origin:0 23.7px;width:610.59px;overflow:hidden;transform:rotate(0.103deg) scaleX(1.02);">Drogi publiczne  powiatowe</div>
<div class="b" style="top:1184.25px;font-size:25.68627450980392px;right:481.52px;transform-origin:100% 23.7px;transform:rotate(0.103deg) scaleX(1.02);">86 435</div>
<div class="b" style="top:1184.52px;font-size:25.68627450980392px;right:334.72px;transform-origin:100% 23.7px;transform:rotate(0.103deg) scaleX(1.02);">1 669</div>
<div class="b" style="top:1184.79px;font-size:25.68627450980392px;right:184.22px;transform-origin:100% 23.7px;transform:rotate(0.103deg) scaleX(1.02);">0</div>
<div class="b" style="top:1185.07px;font-size:25.68627450980392px;right:29.88px;transform-origin:100% 23.7px;transform:rotate(0.103deg) scaleX(1.02);">88 104</div>
<div style="top:1213.96px;font-size:25.68627450980392px;left:174.32px;transform-origin:0 23.7px;width:610.59px;overflow:hidden;transform:rotate(0.105deg) scaleX(1.02);">opłaty na rzecz innych j.s.t. - opłata za umieszczenie</div>
<div style="top:1247.84px;font-size:25.68627450980392px;right:1264.81px;transform-origin:100% 23.7px;transform:rotate(0.107deg) scaleX(1.02);">4520</div>
<div style="top:1247.87px;font-size:25.68627450980392px;left:174.36px;transform-origin:0 23.7px;width:610.59px;overflow:hidden;transform:rotate(0.107deg) scaleX(1.02);">urządzeń w pasie drogowym</div>
<div style="top:1249.58px;font-size:25.68627450980392px;right:334.75px;transform-origin:100% 23.7px;transform:rotate(0.107deg) scaleX(1.02);">1 669</div>
<div style="top:1250.15px;font-size:25.68627450980392px;right:29.96px;transform-origin:100% 23.7px;transform:rotate(0.107deg) scaleX(1.02);">1 669</div>
<div style="top:1280.32px;font-size:25.68627450980392px;left:174.41px;transform-origin:0 23.7px;width:610.59px;overflow:hidden;transform:rotate(0.108deg) scaleX(1.02);">wydatki majątkowe, w tym:</div>
<div style="top:1281.78px;font-size:25.68627450980392px;right:481.54px;transform-origin:100% 23.7px;transform:rotate(0.108deg) scaleX(1.02);">86 435</div>
<div style="top:1282.06px;font-size:25.68627450980392px;right:334.77px;transform-origin:100% 23.7px;transform:rotate(0.108deg) scaleX(1.02);">0</div>
<div style="top:1282.34px;font-size:25.68627450980392px;right:184.30px;transform-origin:100% 23.7px;transform:rotate(0.108deg) scaleX(1.02);">0</div>
<div style="top:1282.64px;font-size:25.68627450980392px;right:29.99px;transform-origin:100% 23.7px;transform:rotate(0.108deg) scaleX(1.02);">86 435</div>
<div style="top:1313.20px;font-size:25.68627450980392px;right:1264.72px;transform-origin:100% 23.7px;transform:rotate(0.110deg) scaleX(1.02);">6620</div>
<div style="top:1313.23px;font-size:25.68627450980392px;left:174.45px;transform-origin:0 23.7px;width:610.59px;overflow:hidden;transform:rotate(0.110deg) scaleX(1.02);">dotacja do remontu chodnika przy ul.Armii Krajowej</div>
<div style="top:1314.71px;font-size:25.68627450980392px;right:481.55px;transform-origin:100% 23.7px;transform:rotate(0.110deg) scaleX(1.02);">20 000</div>
<div style="top:1315.57px;font-size:25.68627450980392px;right:30.03px;transform-origin:100% 23.7px;transform:rotate(0.110deg) scaleX(1.02);">20 000</div>
<div style="top:1344.43px;font-size:25.68627450980392px;left:174.49px;transform-origin:0 23.7px;width:610.59px;overflow:hidden;transform:rotate(0.111deg) scaleX(1.02);">dotacja na dofinans.modern.drogi Kukowo-Zajdy-Dudki i</div>
<div style="top:1378.41px;font-size:25.68627450980392px;right:1264.63px;transform-origin:100% 23.7px;transform:rotate(0.113deg) scaleX(1.02);">6620</div>
<div style="top:1378.44px;font-size:25.68627450980392px;left:174.54px;transform-origin:0 23.7px;width:610.59px;overflow:hidden;transform:rotate(0.113deg) scaleX(1.02);">Olecko-Świetajno-Dunajek</div>
<div style="top:1379.96px;font-size:25.68627450980392px;right:481.57px;transform-origin:100% 23.7px;transform:rotate(0.113deg) scaleX(1.02);">66 435</div>
<div style="top:1380.85px;font-size:25.68627450980392px;right:30.10px;transform-origin:100% 23.7px;transform:rotate(0.113deg) scaleX(1.02);">66 435</div>
<div style="top:1411.11px;font-size:25.68627450980392px;left:-338.49px;width:800px;text-align:center;transform-origin:50% 23.7px;transform:rotate(0.115deg) scaleX(1.02);">60016</div>
<div class="b" style="top:1411.34px;font-size:25.68627450980392px;left:174.58px;transform-origin:0 23.7px;width:610.59px;overflow:hidden;transform:rotate(0.115deg) scaleX(1.02);">Drogi publiczne gminne</div>
<div class="b" style="top:1412.89px;font-size:25.68627450980392px;right:481.57px;transform-origin:100% 23.7px;transform:rotate(0.115deg) scaleX(1.02);">867 690</div>
<div class="b" style="top:1413.18px;font-size:25.68627450980392px;right:334.84px;transform-origin:100% 23.7px;transform:rotate(0.115deg) scaleX(1.02);">502 903</div>
<div class="b" style="top:1413.48px;font-size:25.68627450980392px;right:184.41px;transform-origin:100% 23.7px;transform:rotate(0.115deg) scaleX(1.02);">90 000</div>
<div class="b" style="top:1413.79px;font-size:25.68627450980392px;right:30.14px;transform-origin:100% 23.7px;transform:rotate(0.115deg) scaleX(1.02);">1 280 593</div>
<div style="top:1443.02px;font-size:25.68627450980392px;right:1264.54px;transform-origin:100% 23.7px;transform:rotate(0.116deg) scaleX(1.02);">4170</div>
<div style="top:1443.04px;font-size:25.68627450980392px;left:174.62px;transform-origin:0 23.7px;width:610.59px;overflow:hidden;transform:rotate(0.116deg) scaleX(1.02);">wynagrodzenia bezosobowe(umowy-zlecenia,o dzieło)</div>
<div style="top:1444.61px;font-size:25.68627450980392px;right:481.58px;transform-origin:100% 23.7px;transform:rotate(0.116deg) scaleX(1.02);">0</div>
<div style="top:1444.91px;font-size:25.68627450980392px;right:334.85px;transform-origin:100% 23.7px;transform:rotate(0.116deg) scaleX(1.02);">10 000</div>
<div style="top:1445.22px;font-size:25.68627450980392px;right:184.44px;transform-origin:100% 23.7px;transform:rotate(0.116deg) scaleX(1.02);">0</div>
<div style="top:1445.53px;font-size:25.68627450980392px;right:30.18px;transform-origin:100% 23.7px;transform:rotate(0.116deg) scaleX(1.02);">10 000</div>
<div style="top:1475.72px;font-size:25.68627450980392px;right:1264.50px;transform-origin:100% 23.7px;transform:rotate(0.118deg) scaleX(1.02);">4270</div>
<div style="top:1475.75px;font-size:25.68627450980392px;left:174.67px;transform-origin:0 23.7px;width:610.59px;overflow:hidden;transform:rotate(0.118deg) scaleX(1.02);">remont przepustów,wiat przystankowych,nawierzchni</div>
<div style="top:1477.34px;font-size:25.68627450980392px;right:481.59px;transform-origin:100% 23.7px;transform:rotate(0.118deg) scaleX(1.02);">131 000</div>
<div style="top:1478.27px;font-size:25.68627450980392px;right:30.21px;transform-origin:100% 23.7px;transform:rotate(0.118deg) scaleX(1.02);">131 000</div>
<div style="top:1507.93px;font-size:25.68627450980392px;right:1264.45px;transform-origin:100% 23.7px;transform:rotate(0.120deg) scaleX(1.02);">4300</div>
<div style="top:1507.95px;font-size:25.68627450980392px;left:174.71px;transform-origin:0 23.7px;width:610.59px;overflow:hidden;transform:rotate(0.120deg) scaleX(1.02);">utrzymanie dróg, placów, chodników</div>
<div style="top:1509.56px;font-size:25.68627450980392px;right:481.60px;transform-origin:100% 23.7px;transform:rotate(0.120deg) scaleX(1.02);">114 000</div>
<div style="top:1510.19px;font-size:25.68627450980392px;right:184.49px;transform-origin:100% 23.7px;transform:rotate(0.120deg) scaleX(1.02);">10 000</div>
<div style="top:1510.51px;font-size:25.68627450980392px;right:30.25px;transform-origin:100% 23.7px;transform:rotate(0.120deg) scaleX(1.02);">104 000</div>
<div style="top:1540.46px;font-size:25.68627450980392px;left:174.75px;transform-origin:0 23.7px;width:610.59px;overflow:hidden;transform:rotate(0.121deg) scaleX(1.02);">wydatki majątkowe, w tym:</div>
<div style="top:1542.09px;font-size:25.68627450980392px;right:481.60px;transform-origin:100% 23.7px;transform:rotate(0.121deg) scaleX(1.02);">622 690</div>
<div style="top:1542.40px;font-size:25.68627450980392px;right:334.90px;transform-origin:100% 23.7px;transform:rotate(0.121deg) scaleX(1.02);">492 903</div>
<div style="top:1542.72px;font-size:25.68627450980392px;right:184.52px;transform-origin:100% 23.7px;transform:rotate(0.121deg) scaleX(1.02);">80 000</div>
<div style="top:1543.05px;font-size:25.68627450980392px;right:30.29px;transform-origin:100% 23.7px;transform:rotate(0.121deg) scaleX(1.02);">1 035 593</div>
<div style="top:1572.93px;font-size:25.68627450980392px;right:1264.37px;transform-origin:100% 23.7px;transform:rotate(0.123deg) scaleX(1.02);">6060</div>
<div style="top:1572.96px;font-size:25.68627450980392px;left:174.80px;transform-origin:0 23.7px;width:610.59px;overflow:hidden;transform:rotate(0.123deg) scaleX(1.02);">zakup  wiat przystankowych</div>
<div style="top:1574.62px;font-size:25.68627450980392px;right:481.61px;transform-origin:100% 23.7px;transform:rotate(0.123deg) scaleX(1.02);">12 000</div>
<div style="top:1575.59px;font-size:25.68627450980392px;right:30.32px;transform-origin:100% 23.7px;transform:rotate(0.123deg) scaleX(1.02);">12 000</div>
<div style="top:1605.94px;font-size:25.68627450980392px;right:1264.32px;transform-origin:100% 23.7px;transform:rotate(0.124deg) scaleX(1.02);">6050</div>
<div style="top:1605.97px;font-size:25.68627450980392px;left:174.84px;transform-origin:0 23.7px;width:610.59px;overflow:hidden;transform:rotate(0.124deg) scaleX(1.02);">zagospodarowanie terenu ul. Parkowa</div>
<div style="top:1607.64px;font-size:25.68627450980392px;right:481.62px;transform-origin:100% 23.7px;transform:rotate(0.124deg) scaleX(1.02);">270 000</div>
<div style="top:1608.29px;font-size:25.68627450980392px;right:184.57px;transform-origin:100% 23.7px;transform:rotate(0.124deg) scaleX(1.02);">80 000</div>
<div style="top:1608.63px;font-size:25.68627450980392px;right:30.36px;transform-origin:100% 23.7px;transform:rotate(0.124deg) scaleX(1.02);">190 000</div>
<div style="top:1638.34px;font-size:25.68627450980392px;right:1264.28px;transform-origin:100% 23.7px;transform:rotate(0.126deg) scaleX(1.02);">6050</div>
<div style="top:1638.37px;font-size:25.68627450980392px;left:174.88px;transform-origin:0 23.7px;width:610.59px;overflow:hidden;transform:rotate(0.126deg) scaleX(1.02);">modernizacja drogi Gaski-Świdry-Dzięgiele</div>
<div style="top:1640.39px;font-size:25.68627450980392px;right:334.95px;transform-origin:100% 23.7px;transform:rotate(0.126deg) scaleX(1.02);">80 000</div>
<div style="top:1641.06px;font-size:25.68627450980392px;right:30.40px;transform-origin:100% 23.7px;transform:rotate(0.126deg) scaleX(1.02);">80 000</div>
<div style="top:1670.85px;font-size:25.68627450980392px;right:1264.23px;transform-origin:100% 23.7px;transform:rotate(0.128deg) scaleX(1.02);">6050</div>
<div style="top:1670.88px;font-size:25.68627450980392px;left:174.93px;transform-origin:0 23.7px;width:610.59px;overflow:hidden;transform:rotate(0.128deg) scaleX(1.02);">budowa ulicy Norwida</div>
<div style="top:1672.60px;font-size:25.68627450980392px;right:481.63px;transform-origin:100% 23.7px;transform:rotate(0.128deg) scaleX(1.02);">270 690</div>
<div style="top:1672.92px;font-size:25.68627450980392px;right:334.97px;transform-origin:100% 23.7px;transform:rotate(0.128deg) scaleX(1.02);">412 903</div>
<div style="top:1673.60px;font-size:25.68627450980392px;right:30.44px;transform-origin:100% 23.7px;transform:rotate(0.128deg) scaleX(1.02);">683 593</div>
<div style="top:1703.55px;font-size:25.68627450980392px;right:1264.19px;transform-origin:100% 23.7px;transform:rotate(0.129deg) scaleX(1.02);">6050</div>
<div style="top:1703.58px;font-size:25.68627450980392px;left:174.97px;transform-origin:0 23.7px;width:610.59px;overflow:hidden;transform:rotate(0.129deg) scaleX(1.02);">modernizacja dróg gminnych Olecko/Świetajno-Orzechówek</div>
<div style="top:1705.32px;font-size:25.68627450980392px;right:481.64px;transform-origin:100% 23.7px;transform:rotate(0.129deg) scaleX(1.02);">70 000</div>
<div style="top:1706.34px;font-size:25.68627450980392px;right:30.47px;transform-origin:100% 23.7px;transform:rotate(0.129deg) scaleX(1.02);">70 000</div>
<div class="sec" style="top:1738.52px;font-size:25.098039215686274px;left:-337.98px;width:800px;text-align:center;transform-origin:50% 23.5px;transform:rotate(0.131deg) scaleX(1.02);">630</div>
<div class="sec" style="top:1738.78px;font-size:25.098039215686274px;left:175.02px;transform-origin:0 23.5px;transform:rotate(0.131deg) scaleX(1.02);">TURYSTYKA</div>
<div class="sec" style="top:1740.55px;font-size:25.098039215686274px;right:481.65px;transform-origin:100% 23.5px;transform:rotate(0.131deg) scaleX(1.02);">49 600</div>
<div class="sec" style="top:1740.88px;font-size:25.098039215686274px;right:335.01px;transform-origin:100% 23.5px;transform:rotate(0.131deg) scaleX(1.02);">3 500</div>
<div class="sec" style="top:1741.23px;font-size:25.098039215686274px;right:184.68px;transform-origin:100% 23.5px;transform:rotate(0.131deg) scaleX(1.02);">3 500</div>
<div class="sec" style="top:1741.58px;font-size:25.098039215686274px;right:30.51px;transform-origin:100% 23.5px;transform:rotate(0.131deg) scaleX(1.02);">49 600</div>
<div style="top:1776.53px;font-size:25.68627450980392px;left:-337.92px;width:800px;text-align:center;transform-origin:50% 23.7px;transform:rotate(0.133deg) scaleX(1.02);">63003</div>
<div class="b" style="top:1776.79px;font-size:25.68627450980392px;left:175.07px;transform-origin:0 23.7px;width:610.59px;overflow:hidden;transform:rotate(0.133deg) scaleX(1.02);">Zadania z zakresu upowszechniania turystyki</div>
<div class="b" style="top:1778.58px;font-size:25.68627450980392px;right:481.66px;transform-origin:100% 23.7px;transform:rotate(0.133deg) scaleX(1.02);">3 400</div>
<div class="b" style="top:1778.92px;font-size:25.68627450980392px;right:335.03px;transform-origin:100% 23.7px;transform:rotate(0.133deg) scaleX(1.02);">0</div>
<div class="b" style="top:1779.27px;font-size:25.68627450980392px;right:184.71px;transform-origin:100% 23.7px;transform:rotate(0.133deg) scaleX(1.02);">0</div>
<div class="b" style="top:1779.63px;font-size:25.68627450980392px;right:30.56px;transform-origin:100% 23.7px;transform:rotate(0.133deg) scaleX(1.02);">3 400</div>
<div style="top:1809.46px;font-size:25.68627450980392px;right:1264.05px;transform-origin:100% 23.7px;transform:rotate(0.135deg) scaleX(1.02);">2830</div>
<div style="top:1809.49px;font-size:25.68627450980392px;left:175.11px;transform-origin:0 23.7px;width:610.59px;overflow:hidden;transform:rotate(0.135deg) scaleX(1.02);">dotacja celowa na dofinansowanie zadań zleconych</div>
<div style="top:1811.31px;font-size:25.68627450980392px;right:481.66px;transform-origin:100% 23.7px;transform:rotate(0.135deg) scaleX(1.02);">3 400</div>
<div style="top:1812.37px;font-size:25.68627450980392px;right:30.59px;transform-origin:100% 23.7px;transform:rotate(0.135deg) scaleX(1.02);">3 400</div>
<div style="top:1842.20px;font-size:25.68627450980392px;left:175.16px;transform-origin:0 23.7px;width:610.59px;overflow:hidden;transform:rotate(0.136deg) scaleX(1.02);">do realizacji poz.jedn.nie zaliczanym do s.f.p.</div>
<div style="top:1874.93px;font-size:25.68627450980392px;left:-337.77px;width:800px;text-align:center;transform-origin:50% 23.7px;transform:rotate(0.138deg) scaleX(1.02);">63095</div>
<div class="b" style="top:1875.20px;font-size:25.68627450980392px;left:175.20px;transform-origin:0 23.7px;width:610.59px;overflow:hidden;transform:rotate(0.138deg) scaleX(1.02);">Pozostała działalność</div>
<div class="b" style="top:1877.06px;font-size:25.68627450980392px;right:481.68px;transform-origin:100% 23.7px;transform:rotate(0.138deg) scaleX(1.02);">46 200</div>
<div class="b" style="top:1877.41px;font-size:25.68627450980392px;right:335.08px;transform-origin:100% 23.7px;transform:rotate(0.138deg) scaleX(1.02);">3 500</div>
<div class="b" style="top:1877.78px;font-size:25.68627450980392px;right:184.79px;transform-origin:100% 23.7px;transform:rotate(0.138deg) scaleX(1.02);">3 500</div>
<div class="b" style="top:1878.15px;font-size:25.68627450980392px;right:30.67px;transform-origin:100% 23.7px;transform:rotate(0.138deg) scaleX(1.02);">46 200</div>
<div style="top:1907.18px;font-size:25.68627450980392px;right:1263.91px;transform-origin:100% 23.7px;transform:rotate(0.139deg) scaleX(1.02);">4210</div>
<div style="top:1907.21px;font-size:25.68627450980392px;left:175.24px;transform-origin:0 23.7px;width:610.59px;overflow:hidden;transform:rotate(0.139deg) scaleX(1.02);">zakup materiałów i wyposażenia</div>
<div style="top:1909.09px;font-size:25.68627450980392px;right:481.68px;transform-origin:100% 23.7px;transform:rotate(0.139deg) scaleX(1.02);">5 000</div>
<div style="top:1910.19px;font-size:25.68627450980392px;right:30.70px;transform-origin:100% 23.7px;transform:rotate(0.139deg) scaleX(1.02);">5 000</div>
<div style="top:1939.58px;font-size:25.68627450980392px;right:1263.87px;transform-origin:100% 23.7px;transform:rotate(0.141deg) scaleX(1.02);">4270</div>
<div style="top:1939.61px;font-size:25.68627450980392px;left:175.28px;transform-origin:0 23.7px;width:610.59px;overflow:hidden;transform:rotate(0.141deg) scaleX(1.02);">remont tras rowerowych</div>
<div style="top:1941.51px;font-size:25.68627450980392px;right:481.69px;transform-origin:100% 23.7px;transform:rotate(0.141deg) scaleX(1.02);">10 500</div>
<div style="top:1942.24px;font-size:25.68627450980392px;right:184.84px;transform-origin:100% 23.7px;transform:rotate(0.141deg) scaleX(1.02);">3 500</div>
<div style="top:1942.63px;font-size:25.68627450980392px;right:30.74px;transform-origin:100% 23.7px;transform:rotate(0.141deg) scaleX(1.02);">7 000</div>
<div style="top:1971.98px;font-size:25.68627450980392px;right:1263.82px;transform-origin:100% 23.7px;transform:rotate(0.143deg) scaleX(1.02);">4300</div>
<div style="top:1972.02px;font-size:25.68627450980392px;left:175.33px;transform-origin:0 23.7px;width:610.59px;overflow:hidden;transform:rotate(0.143deg) scaleX(1.02);">przygotowanie terenu pod boiska przy wiewiórczej ścieżce</div>
<div style="top:1974.30px;font-size:25.68627450980392px;right:335.13px;transform-origin:100% 23.7px;transform:rotate(0.143deg) scaleX(1.02);">3 500</div>
<div style="top:1975.06px;font-size:25.68627450980392px;right:30.78px;transform-origin:100% 23.7px;transform:rotate(0.143deg) scaleX(1.02);">3 500</div>
<div style="top:2004.19px;font-size:25.68627450980392px;right:1263.78px;transform-origin:100% 23.7px;transform:rotate(0.144deg) scaleX(1.02);">6050</div>
<div style="top:2004.22px;font-size:25.68627450980392px;left:175.37px;transform-origin:0 23.7px;width:610.59px;overflow:hidden;transform:rotate(0.144deg) scaleX(1.02);">budowa ścieżki rowerowej-Armii Krajowej,Gołdapska</div>
<div style="top:2006.16px;font-size:25.68627450980392px;right:481.71px;transform-origin:100% 23.7px;transform:rotate(0.144deg) scaleX(1.02);">18 300</div>
<div style="top:2007.30px;font-size:25.68627450980392px;right:30.81px;transform-origin:100% 23.7px;transform:rotate(0.144deg) scaleX(1.02);">18 300</div>
<div style="top:2037.29px;font-size:25.68627450980392px;right:1263.74px;transform-origin:100% 23.7px;transform:rotate(0.146deg) scaleX(1.02);">6050</div>
<div style="top:2037.32px;font-size:25.68627450980392px;left:175.41px;transform-origin:0 23.7px;width:610.59px;overflow:hidden;transform:rotate(0.146deg) scaleX(1.02);">ścieżka ekologiczo-przyrodnicza-wykonanie wiaty</div>
<div style="top:2039.29px;font-size:25.68627450980392px;right:481.71px;transform-origin:100% 23.7px;transform:rotate(0.146deg) scaleX(1.02);">12 400</div>
<div style="top:2040.44px;font-size:25.68627450980392px;right:30.85px;transform-origin:100% 23.7px;transform:rotate(0.146deg) scaleX(1.02);">12 400</div>
<div style="top:214.97px;font-size:25.68627450980392px;left:-341.06px;width:800px;text-align:center;transform-origin:50% 23.7px;transform:rotate(0.055deg) scaleX(1.02);">Dział</div>
<div style="top:251.57px;font-size:25.68627450980392px;left:-340.00px;width:800px;text-align:center;transform-origin:50% 23.7px;transform:rotate(0.057deg) scaleX(1.02);">rozdz.</div>
<div style="top:251.64px;font-size:25.68627450980392px;left:-268.53px;width:800px;text-align:center;transform-origin:50% 23.7px;transform:rotate(0.057deg) scaleX(1.02);">§</div>
<div style="top:215.38px;font-size:25.68627450980392px;left:84.77px;width:800px;text-align:center;transform-origin:50% 23.7px;transform:rotate(0.055deg) scaleX(1.02);">Wyszczególnienie</div>
<div style="top:251.99px;font-size:25.68627450980392px;left:84.30px;width:800px;text-align:center;transform-origin:50% 23.7px;transform:rotate(0.057deg) scaleX(1.02);">nazwa działu, rozdziału</div>
<div style="top:215.76px;font-size:25.68627450980392px;left:474.52px;width:800px;text-align:center;transform-origin:50% 23.7px;transform:rotate(0.055deg) scaleX(1.02);">Plan</div>
<div style="top:215.90px;font-size:25.68627450980392px;left:624.99px;width:800px;text-align:center;transform-origin:50% 23.7px;transform:rotate(0.055deg) scaleX(1.02);">zmiana</div>
<div style="top:216.04px;font-size:25.68627450980392px;left:772.98px;width:800px;text-align:center;transform-origin:50% 23.7px;transform:rotate(0.055deg) scaleX(1.02);">planu</div>
<div style="top:252.53px;font-size:25.68627450980392px;left:624.32px;width:800px;text-align:center;transform-origin:50% 23.7px;transform:rotate(0.057deg) scaleX(1.02);">uchwałą</div>
<div style="top:283.36px;font-size:25.68627450980392px;left:624.31px;width:800px;text-align:center;transform-origin:50% 23.7px;transform:rotate(0.058deg) scaleX(1.02);">zwiększenia</div>
<div style="top:283.51px;font-size:25.68627450980392px;letter-spacing:0.27px;left:773.73px;width:800px;text-align:center;transform-origin:50% 23.7px;transform:rotate(0.058deg) scaleX(1.02);">zmniejszenia</div>
<div style="top:216.19px;font-size:25.68627450980392px;left:926.00px;width:800px;text-align:center;transform-origin:50% 23.7px;transform:rotate(0.055deg) scaleX(1.02);">Plan</div>
<div style="top:252.83px;font-size:25.68627450980392px;left:925.96px;width:800px;text-align:center;transform-origin:50% 23.7px;transform:rotate(0.057deg) scaleX(1.02);">po</div>
<div style="top:283.67px;font-size:25.68627450980392px;left:925.93px;width:800px;text-align:center;transform-origin:50% 23.7px;transform:rotate(0.058deg) scaleX(1.02);">zmianie</div>
<div class="clip" style="left:1100.58px;top:252.40px;width:143.40px;height:32px"><div style="left:-400px;width:943.40px;text-align:center;top:0.18px;font-size:25.69px;letter-spacing:-0.15px;transform:scaleX(1.02);transform-origin:50% 50%">XXXIII/251/05</div></div>
</div>
<div class="f" style="left:575.00px;top:2080.10px;font-size:25.69px;transform:scaleX(1.02);transform-origin:0 50%">Strona 1 z 8</div>
</div>
</body></html>
